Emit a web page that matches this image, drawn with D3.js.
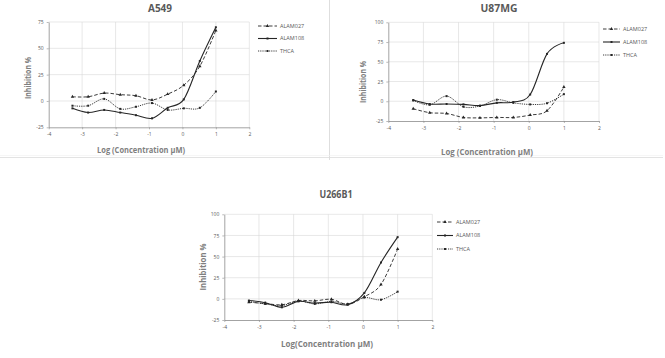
<!DOCTYPE html>
<html><head><meta charset="utf-8">
<script src="https://cdn.jsdelivr.net/npm/d3@7"></script>
<style>html,body{margin:0;padding:0;background:#fff;}svg{display:block;}</style>
</head><body>
<svg id="chart" width="665" height="358"></svg>
<script>
// ---- data ----
const cellLines = ["A549", "U87MG", "U266B1"];
const seriesNames = ["ALAM027", "ALAM108", "THCA"];
const logConc = [-3.29, -2.82, -2.34, -1.86, -1.39, -0.91, -0.44, 0.04, 0.52, 1.0];
const xTicks = [-4, -3, -2, -1, 0, 1, 2];
const xTickLabels = ["-4", "-3", "-2", "-1", "0", "1", "2"];
const yTicksA549 = [-25, 0, 25, 50, 75];
const yTicks100 = [-25, 0, 25, 50, 75, 100];
const yTickLabels = {"-25": "-25", "0": "0", "25": "25", "50": "50", "75": "75", "100": "100"};

const a549_ALAM027 = [4, 4, 7.5, 6, 5, 1, 6.5, 15, 33, 67];
const a549_ALAM108 = [-7, -11, -8.5, -11, -13.5, -16.5, -6.5, 1.5, 38, 70];
const a549_THCA    = [-4.5, -4.5, 2, -7.5, -5.5, -2, -8.5, -7, -6.5, 9];

const u87_ALAM027 = [-9.5, -14.5, -15.5, -20.5, -21, -20.5, -20.5, -17.5, -12, 18];
const u87_ALAM108 = [1.5, -3.5, -3.5, -4, -5.5, -2, -1, 8.5, 60, 74];
const u87_THCA    = [1, -4.5, 6.5, -7, -6, 2, -2, -4, -2.5, 9];

const u266_ALAM027 = [-4, -5.5, -7, -2, -2.4, -0.5, -6.5, 2.5, 17, 59];
const u266_ALAM108 = [-2, -4.5, -10, -3, -5, -4, -7, 7, 43, 73];
const u266_THCA    = [-3, -6, -8, -2.5, -6, -3, -6, 1.5, -1, 8.5];

const panelData = {
  "A549":   [a549_ALAM027, a549_ALAM108, a549_THCA],
  "U87MG":  [u87_ALAM027, u87_ALAM108, u87_THCA],
  "U266B1": [u266_ALAM027, u266_ALAM108, u266_THCA]
};
const panelYTicks = {"A549": yTicksA549, "U87MG": yTicks100, "U266B1": yTicks100};
const xTitles = {"A549": "Log (Concentration µM)", "U87MG": "Log (Concentration µM)", "U266B1": "Log(Concentration µM)"};
const yTitle = "Inhibition %";

// ---- layout (positions only) ----
const layout = {
  "A549":   {x0: 48.7, x1: 249.3, yT: 22, yB: 127.3, title: [160, 8], titleLen: 24,
             yl: [28, 78], ylLen: 42, xl: [141, 150], xlLen: 88, leg: [258, 277, 280, 26, 12.5]},
  "U87MG":  {x0: 388.3, x1: 599, yT: 22.3, yB: 121, title: [499, 8], titleLen: 37,
             yl: [363, 82], ylLen: 42, xl: [487, 152], xlLen: 92, leg: [603, 620, 623, 29, 13]},
  "U266B1": {x0: 224.3, x1: 432.3, yT: 214.3, yB: 320, title: [336, 194], titleLen: 33,
             yl: [203, 267], ylLen: 47, xl: [327, 344], xlLen: 92, leg: [437, 453, 456, 222, 13.5]}
};
const styles = [
  {dash: "3.5,2", width: 0.9, sym: d3.symbolTriangle, size: 5},
  {dash: null, width: 1.1, sym: d3.symbolSquare, size: 4},
  {dash: "1.2,1", width: 0.9, sym: d3.symbolSquare, size: 4}
];
const lineColor = "#262626";
const font = "'Open Sans', 'Liberation Sans', sans-serif";

const svg = d3.select("#chart");
svg.append("rect").attr("width", 665).attr("height", 358).attr("fill", "#fff");

// separators
svg.append("line").attr("x1", 329.5).attr("x2", 329.5).attr("y1", 0).attr("y2", 160)
  .attr("stroke", "#d6d6d6").attr("stroke-width", 0.8);
svg.append("line").attr("x1", 0).attr("x2", 663).attr("y1", 157.5).attr("y2", 157.5)
  .attr("stroke", "#dcdcdc").attr("stroke-width", 0.8);
svg.append("line").attr("x1", 0).attr("x2", 663).attr("y1", 155.5).attr("y2", 155.5)
  .attr("stroke", "#f0f0f0").attr("stroke-width", 0.6);

cellLines.forEach(name => {
  const L = layout[name];
  const yt = panelYTicks[name];
  const x = d3.scaleLinear().domain([xTicks[0], xTicks[xTicks.length - 1]]).range([L.x0, L.x1]);
  const y = d3.scaleLinear().domain([yt[0], yt[yt.length - 1]]).range([L.yB, L.yT]);
  const g = svg.append("g");

  // gridlines
  g.append("g").selectAll("line").data(yt.slice(1)).join("line")
    .attr("x1", L.x0).attr("x2", L.x1).attr("y1", d => y(d)).attr("y2", d => y(d))
    .attr("stroke", "#d9d9d9").attr("stroke-width", 0.6);
  g.append("g").selectAll("line").data(xTicks.slice(1)).join("line")
    .attr("y1", L.yT).attr("y2", L.yB).attr("x1", d => x(d)).attr("x2", d => x(d))
    .attr("stroke", "#d9d9d9").attr("stroke-width", 0.6);

  // axes
  const ax = g.append("g").attr("transform", `translate(0,${L.yB})`)
    .call(d3.axisBottom(x).tickValues(xTicks).tickFormat((d, i) => xTickLabels[i])
      .tickSize(2).tickSizeOuter(0).tickPadding(3));
  const ay = g.append("g").attr("transform", `translate(${L.x0},0)`)
    .call(d3.axisLeft(y).tickValues(yt).tickFormat(d => yTickLabels[String(d)]).tickSize(2).tickSizeOuter(0).tickPadding(3));
  [ax, ay].forEach(a => {
    a.select(".domain").attr("stroke", "#8c8c8c").attr("stroke-width", 0.8);
    a.selectAll(".tick line").attr("stroke", "#8c8c8c").attr("stroke-width", 0.6);
    a.selectAll("text").attr("fill", "#595959").style("font-size", "5px").style("font-family", font);
  });

  // series
  panelData[name].forEach((vals, i) => {
    const st = styles[i];
    const pts = logConc.map((c, k) => ({x: c, y: vals[k]}));
    const line = d3.line().x(d => x(d.x)).y(d => y(d.y)).curve(d3.curveCardinal.tension(0));
    g.append("path").datum(pts).attr("d", line).attr("fill", "none")
      .attr("stroke", lineColor).attr("stroke-width", st.width)
      .attr("stroke-dasharray", st.dash);
    g.append("g").selectAll("path").data(pts).join("path")
      .attr("d", d3.symbol().type(st.sym).size(st.size))
      .attr("transform", d => `translate(${x(d.x)},${y(d.y)})`)
      .attr("fill", lineColor);
  });

  // legend
  const [lx0, lx1, tx, ly0, dy] = L.leg;
  seriesNames.forEach((s, i) => {
    const st = styles[i];
    const yy = ly0 + i * dy;
    g.append("line").attr("x1", lx0).attr("x2", lx1).attr("y1", yy).attr("y2", yy)
      .attr("stroke", lineColor).attr("stroke-width", st.width).attr("stroke-dasharray", st.dash);
    g.append("path").attr("d", d3.symbol().type(st.sym).size(st.size)())
      .attr("transform", `translate(${(lx0 + lx1) / 2},${yy})`).attr("fill", lineColor);
    g.append("text").attr("x", tx).attr("y", yy).attr("dy", "0.35em")
      .attr("fill", "#595959").style("font-size", "5.5px").style("font-family", font).text(s);
  });

  // titles
  g.append("text").attr("x", L.title[0]).attr("y", L.title[1]).attr("dy", "0.35em")
    .attr("text-anchor", "middle").attr("fill", "#595959")
    .style("font-size", "10px").style("font-weight", "bold").style("font-family", font)
    .attr("textLength", L.titleLen).attr("lengthAdjust", "spacingAndGlyphs").text(name);
  g.append("text").attr("x", L.xl[0]).attr("y", L.xl[1]).attr("dy", "0.35em")
    .attr("text-anchor", "middle").attr("fill", "#7f7f7f")
    .style("font-size", "9.5px").style("font-weight", "bold").style("font-family", font)
    .attr("textLength", L.xlLen).attr("lengthAdjust", "spacingAndGlyphs").text(xTitles[name]);
  g.append("text").attr("transform", `translate(${L.yl[0]},${L.yl[1]}) rotate(-90)`).attr("dy", "0.35em")
    .attr("text-anchor", "middle").attr("fill", "#7f7f7f")
    .style("font-size", "9.5px").style("font-weight", "bold").style("font-family", font)
    .attr("textLength", L.ylLen).attr("lengthAdjust", "spacingAndGlyphs").text(yTitle);
});
</script>
</body></html>
